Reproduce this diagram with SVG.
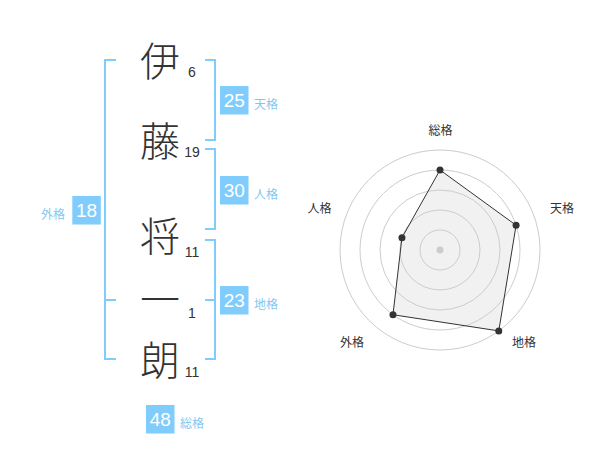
<svg xmlns="http://www.w3.org/2000/svg" width="600" height="470" viewBox="0 0 600 470">
<style>
.ch{font-family:"Noto Sans CJK JP","Noto Sans CJK SC",sans-serif;font-size:40px;font-weight:300;fill:#333;text-anchor:middle}
.num{font-family:"Liberation Sans",Arial,sans-serif;font-size:14px;fill:#333;text-anchor:middle}
.box{fill:#80ccfd}
.bn{font-family:"Liberation Sans",Arial,sans-serif;font-size:19px;fill:#fff;text-anchor:middle}
.bl{font-family:"Noto Sans CJK JP",sans-serif;font-size:12px;fill:#7fc8f2}
.br{fill:none;stroke:#80ccfd;stroke-width:2}
.ring{fill:none;stroke:#cccccc;stroke-width:1}
.rl{font-family:"Noto Sans CJK JP",sans-serif;font-size:12px;fill:#333;text-anchor:middle}
</style>
<rect width="600" height="470" fill="#fff"/>
<g id="connectors">
<path class="br" d="M116,60 H105 V359 H116 M105,300 H116"/>
<path class="br" d="M205,60 H215 V140 H205"/>
<path class="br" d="M205,149 H215 V229 H205"/>
<path class="br" d="M205,240 H215 V359 H205 M205,300 H215"/>
</g>
<g id="char1"><text class="ch" x="160" y="76">伊</text><text class="num" x="192" y="77">6</text></g>
<g id="char2"><text class="ch" x="160" y="156">藤</text><text class="num" x="192" y="157">19</text></g>
<g id="char3"><text class="ch" x="160" y="251">将</text><text class="num" x="192" y="257">11</text></g>
<g id="char4"><text class="ch" x="160" y="314">一</text><text class="num" x="192" y="318">1</text></g>
<g id="char5"><text class="ch" x="160" y="375">朗</text><text class="num" x="192" y="377">11</text></g>
<g id="tenkaku"><rect class="box" x="220" y="86" width="28.5" height="28.5"/><text class="bn" x="234.3" y="107">25</text><text class="bl" x="254" y="108.5">天格</text></g>
<g id="jinkaku"><rect class="box" x="220" y="176" width="28.5" height="28.5"/><text class="bn" x="234.3" y="197">30</text><text class="bl" x="254" y="198.5">人格</text></g>
<g id="chikaku"><rect class="box" x="220" y="286" width="28.5" height="28.5"/><text class="bn" x="234.3" y="307">23</text><text class="bl" x="254" y="308.5">地格</text></g>
<g id="gaikaku"><rect class="box" x="72.3" y="196" width="28.5" height="28.5"/><text class="bn" x="86.5" y="217">18</text><text class="bl" x="41" y="218.5">外格</text></g>
<g id="soukaku"><rect class="box" x="146" y="405" width="28.5" height="28.5"/><text class="bn" x="160.3" y="426">48</text><text class="bl" x="180" y="427.5">総格</text></g>
<g id="radar">
<polygon points="440,170 516.08,225.28 498.78,330.9 392.98,314.72 401.96,237.64" fill="#f1f1f1"/>
<circle class="ring" cx="440" cy="250" r="20"/>
<circle class="ring" cx="440" cy="250" r="40"/>
<circle class="ring" cx="440" cy="250" r="60"/>
<circle class="ring" cx="440" cy="250" r="80"/>
<circle class="ring" cx="440" cy="250" r="100"/>
<circle cx="440" cy="250" r="3.5" fill="#cccccc"/>
<polygon points="440,170 516.08,225.28 498.78,330.9 392.98,314.72 401.96,237.64" fill="none" stroke="#333" stroke-width="1"/>
<g fill="#333">
<circle cx="440" cy="170" r="3.5"/>
<circle cx="516.08" cy="225.28" r="3.5"/>
<circle cx="498.78" cy="330.9" r="3.5"/>
<circle cx="392.98" cy="314.72" r="3.5"/>
<circle cx="401.96" cy="237.64" r="3.5"/>
</g>
<text class="rl" x="440.5" y="135">総格</text>
<text class="rl" x="562" y="213">天格</text>
<text class="rl" x="524" y="347">地格</text>
<text class="rl" x="352" y="347">外格</text>
<text class="rl" x="319.5" y="213">人格</text>
</g>
</svg>
